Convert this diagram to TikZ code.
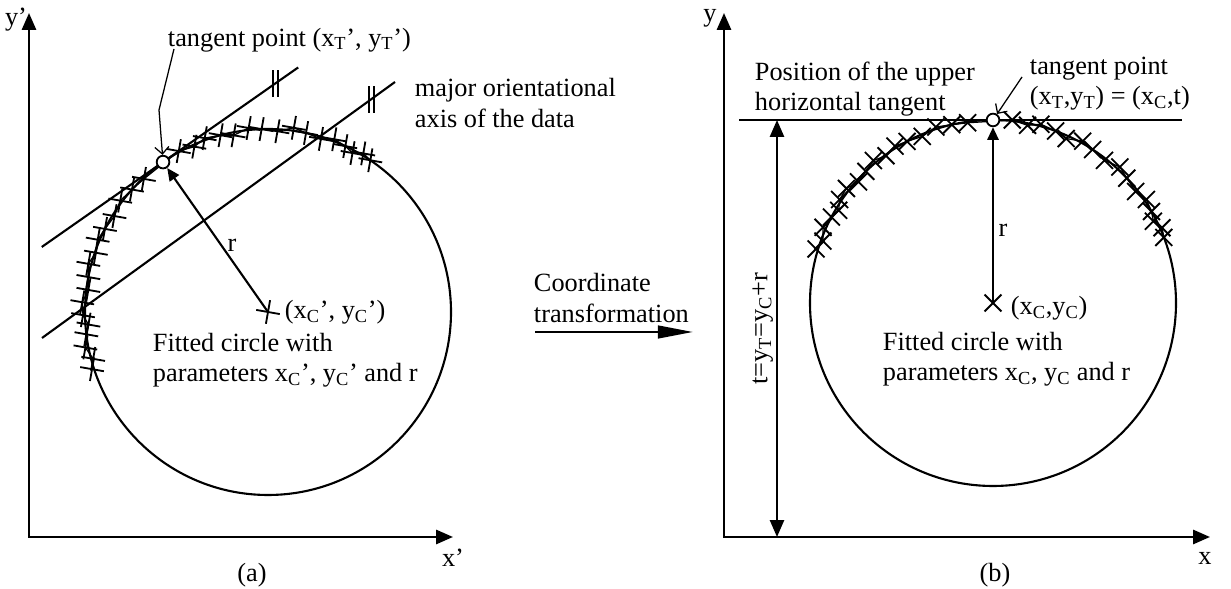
\documentclass[tikz,border=0pt]{standalone}
\usepackage{fontspec}
\setmainfont{Liberation Serif}
\usetikzlibrary{arrows.meta,positioning,calc}

\newcommand\fitdata{163/2, 160/-2, 156/3, 152/0, 149/-3, 146/2, 142/3, 138/-2, 134/0, 130/3, 126/-1, 122/2, 118/0, 113/-2, 108/2, 103/0, 98/-1, 84/1, 79/-2, 75/2, 70/0, 66/-3, 61/2, 57/0, 52/-2, 47/3, 43/0, 38/-2, 34/2, 30/0, 27/-3, 24/2, 21/0}

\tikzset{
  axisline/.style={line width=1.8pt, {Triangle[length=12pt,width=10pt]}-{Triangle[length=12pt,width=10pt]}},
  fitcircle/.style={line width=1.5pt},
  tline/.style={line width=1.5pt},
  tickbar/.style={line width=0.9pt},
  datapoly/.style={line width=0.9pt},
  datamark/.style={line width=1.3pt},
  tpoint/.style={circle, draw, fill=white, line width=1.3pt, inner sep=0pt, minimum size=9pt},
  radarrow/.style={line width=1.5pt, -{Triangle[length=9pt,width=8pt]}},
  labelarrow/.style={line width=0.9pt, -{Straight Barb[length=5pt,width=10pt]}},
  dimarrow/.style={line width=1.5pt, {Triangle[length=12pt,width=10pt]}-{Triangle[length=12pt,width=10pt]}},
  transarrow/.style={line width=1.8pt, -{Triangle[length=25pt,width=9pt]}}
}

\begin{document}
\begin{tikzpicture}[x=0.025cm, y=0.025cm, font=\fontsize{18.7}{21.5}\selectfont]
  \useasboundingbox (0,0) rectangle (1231,589);

  % ---- (a) original data
  \coordinate (o1) at (29,52);
  \coordinate (ytip1) at (29,576);
  \coordinate (xtip1) at (453,52);
  \draw[axisline] (ytip1) -- (o1) -- (xtip1);
  \node (ylab1) at (16,569) {y'};
  \node (xlab1) at (453,31) {x'};
  \node (cap1) at (252,14) {(a)};

  \coordinate (c1) at (268,277);
  \coordinate (t1) at ($(c1)+(125:183)$);
  \draw[fitcircle] (c1) circle[radius=183];
  \draw[tline] ($(t1)+(215:148)$) -- ($(t1)+(35:165)$);
  \coordinate (ax1a) at (42,251);
  \coordinate (ax1b) at (395,507);
  \draw[tline] (ax1a) -- (ax1b);
  \draw[tickbar] (273,492) -- ++(0,27) (278,492) -- ++(0,27);
  \draw[tickbar] (369,476) -- ++(0,27) (374,476) -- ++(0,27);

  \foreach \a/\d [count=\i] in \fitdata
    \coordinate (l\i) at ($(c1)+({\a+35}:{183+\d})$);
  \draw[datapoly] (l1) \foreach \i in {2,...,33} {-- (l\i)};
  \foreach \i in {1,...,33}
    \draw[datamark] (l\i) +(-10:12) -- +(170:12) +(80:12) -- +(260:12);
  \draw[datamark] (c1) +(-10:12) -- +(170:12) +(80:12) -- +(260:12);

  \node[tpoint] (tp1) at (t1) {};
  \draw[radarrow] (c1) -- (tp1);
  \node (r1) at (232,344) {r};
  \node[anchor=west] (cl1) at (280,277) {(x\textsubscript{C}', y\textsubscript{C}')};
  \node[anchor=west, align=left] (fit1) at (148,229) {Fitted circle with\\parameters x\textsubscript{C}', y\textsubscript{C}' and r};

  \node[anchor=west] (tplab1) at (163,549) {tangent point (x\textsubscript{T}', y\textsubscript{T}')};
  \coordinate (tpa1) at (174,540);
  \coordinate (tpb1) at (159,479);
  \draw[labelarrow] (tpa1) -- (tpb1) -- (tp1);
  \node[anchor=west, align=left] (axlab) at (410,486) {major orientational\\axis of the data};

  % ---- transformation
  \node[anchor=west, align=left] (trlab) at (529,291) {Coordinate\\transformation};
  \coordinate (tra) at (535,257);
  \coordinate (trb) at (693,257);
  \draw[transarrow] (tra) -- (trb);

  % ---- (b) rotated data
  \coordinate (o2) at (724,52);
  \coordinate (ytip2) at (724,576);
  \coordinate (xtip2) at (1210,52);
  \draw[axisline] (ytip2) -- (o2) -- (xtip2);
  \node (ylab2) at (710,571) {y};
  \node (xlab2) at (1205,31) {x};
  \node (cap2) at (995,14) {(b)};

  \coordinate (c2) at (993,286);
  \coordinate (t2) at ($(c2)+(90:183)$);
  \draw[fitcircle] (c2) circle[radius=183];
  \coordinate (hl) at (739,469);
  \coordinate (hr) at (1182,469);
  \draw[tline] (hl) -- (hr);

  \foreach \a/\d [count=\i] in \fitdata
    \coordinate (r\i) at ($(c2)+(\a:{183+\d})$);
  \draw[datapoly] (r1) \foreach \i in {2,...,33} {-- (r\i)};
  \foreach \i in {1,...,33}
    \draw[datamark] (r\i) +(45:12) -- +(225:12) +(135:12) -- +(315:12);
  \draw[datamark] (c2) +(45:12) -- +(225:12) +(135:12) -- +(315:12);

  \node[tpoint] (tp2) at (t2) {};
  \draw[radarrow] (c2) -- (tp2);
  \node (r2) at (1003,359) {r};
  \node[anchor=west] (cl2) at (1006,281) {(x\textsubscript{C},y\textsubscript{C})};
  \node[anchor=west, align=left] (fit2) at (878,230) {Fitted circle with\\parameters x\textsubscript{C}, y\textsubscript{C} and r};

  \coordinate (dtop) at (777,469);
  \coordinate (dbot) at (777,52);
  \draw[dimarrow] (dbot) -- node[midway, above, sloped, inner sep=2pt] {t=y\textsubscript{T}=y\textsubscript{C}+r} (dtop);

  \node[anchor=west, align=left] (poslab) at (750,500) {Position of the upper\\horizontal tangent};
  \node[anchor=west, align=left] (tplab2) at (1025,505) {tangent point\\(x\textsubscript{T},y\textsubscript{T}) = (x\textsubscript{C},t)};
  \coordinate (tpa2) at (1022,512);
  \draw[labelarrow] (tpa2) -- (tp2);
\end{tikzpicture}
\end{document}
